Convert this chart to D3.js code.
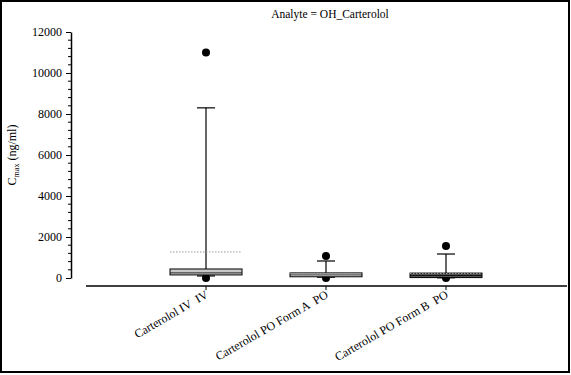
<!DOCTYPE html>
<html><head><meta charset="utf-8">
<script src="https://cdn.jsdelivr.net/npm/d3@7/dist/d3.min.js"></script>
<style>body{margin:0;background:#fff}svg{display:block;font-family:"Liberation Serif","Times New Roman",serif}text{white-space:pre}</style>
</head><body>
<script>
const categories = ["Carterolol IV  IV", "Carterolol PO Form A  PO", "Carterolol PO Form B  PO"];
const q1 = [150, 60, 20];
const q3 = [440, 250, 240];
const medians = [250, 150, 120];
const means = [1270, 230, 220];
const whiskerLow = [100, 40, 10];
const whiskerHigh = [8300, 830, 1170];
const outliersHigh = [11000, 1070, 1560];
const outliersLow = [0, 0, 0];
const boxFills = ["#c8c8c8", "#e4e4e4", "#555555"];
const yTicks = [0, 2000, 4000, 6000, 8000, 10000, 12000];

const W = 571, H = 375;
const svg = d3.select("body").append("svg").attr("width", W).attr("height", H);
svg.append("rect").attr("x", 1).attr("y", 1).attr("width", 568).attr("height", 371)
  .attr("fill", "none").attr("stroke", "#000").attr("stroke-width", 2);

const y = d3.scaleLinear().domain([0, 12000]).range([278, 32]);
const x = d3.scalePoint().domain(categories).range([206, 446]);
const boxW = 72, capW = 18;

// y axis
const yAxis = d3.axisLeft(y).tickValues(yTicks).tickFormat(d3.format("d")).tickSize(5).tickSizeOuter(0).tickPadding(4);
const ga = svg.append("g").attr("transform", "translate(71,0)").call(yAxis);
ga.selectAll("text").style("font-size", "12px").style("font-family", "Liberation Serif").attr("fill", "#000");
ga.select(".domain").attr("stroke-width", 1.5);
const minor = d3.range(0, 12001, 400).filter(v => v % 2000 !== 0);
svg.append("g").selectAll("line").data(minor).join("line")
  .attr("x1", 68).attr("x2", 71).attr("y1", d => y(d)).attr("y2", d => y(d))
  .attr("stroke", "#000").attr("stroke-width", 1);

// x axis
svg.append("line").attr("x1", 86).attr("x2", 567).attr("y1", 286).attr("y2", 286)
  .attr("stroke", "#000").attr("stroke-width", 1.5);
svg.append("g").selectAll("line").data(categories).join("line")
  .attr("x1", d => x(d)).attr("x2", d => x(d)).attr("y1", 286).attr("y2", 290)
  .attr("stroke", "#000");
svg.append("g").selectAll("text").data(categories).join("text")
  .attr("transform", d => `translate(${x(d) + 3},${297}) rotate(-30)`)
  .attr("text-anchor", "end").style("font-size", "12px").text(d => d);

// boxes
const g = svg.append("g");
categories.forEach((c, i) => {
  const cx = x(c);
  g.append("circle").attr("cx", cx).attr("cy", y(outliersLow[i])).attr("r", 4).attr("fill", "#000");
  g.append("line").attr("x1", cx).attr("x2", cx).attr("y1", y(q3[i])).attr("y2", y(whiskerHigh[i]))
    .attr("stroke", "#000").attr("stroke-width", 1.2);
  g.append("line").attr("x1", cx - capW / 2).attr("x2", cx + capW / 2)
    .attr("y1", y(whiskerHigh[i])).attr("y2", y(whiskerHigh[i])).attr("stroke", "#000").attr("stroke-width", 1.2);
  g.append("line").attr("x1", cx - capW / 2).attr("x2", cx + capW / 2)
    .attr("y1", y(whiskerLow[i])).attr("y2", y(whiskerLow[i])).attr("stroke", "#000").attr("stroke-width", 1.2);
  g.append("rect").attr("x", cx - boxW / 2).attr("y", y(q3[i])).attr("width", boxW)
    .attr("height", y(q1[i]) - y(q3[i])).attr("fill", boxFills[i]).attr("stroke", "#000").attr("stroke-width", 1);
  g.append("line").attr("x1", cx - boxW / 2).attr("x2", cx + boxW / 2)
    .attr("y1", y(medians[i])).attr("y2", y(medians[i])).attr("stroke", "#000").attr("stroke-width", 0.8);
  g.append("line").attr("x1", cx - boxW / 2).attr("x2", cx + boxW / 2)
    .attr("y1", y(means[i])).attr("y2", y(means[i]))
    .attr("stroke", "#999").attr("stroke-width", 1).attr("stroke-dasharray", "1.5,1.5");
  g.append("circle").attr("cx", cx).attr("cy", y(outliersHigh[i])).attr("r", 4).attr("fill", "#000");
});

// title
svg.append("text").attr("x", 330).attr("y", 18).attr("text-anchor", "middle")
  .style("font-size", "11.5px").text("Analyte = OH_Carterolol");

// y label
const yl = svg.append("text").attr("transform", "translate(16,155) rotate(-90)")
  .attr("text-anchor", "middle").style("font-size", "12px");
yl.append("tspan").text("C");
yl.append("tspan").attr("dy", 3).style("font-size", "8px").text("max");
yl.append("tspan").attr("dy", -3).text(" (ng/ml)");
</script>
</body></html>
